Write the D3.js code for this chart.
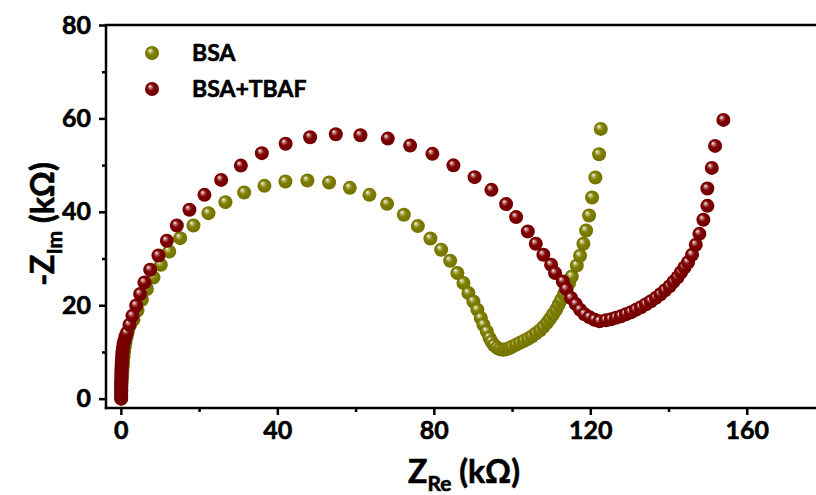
<!DOCTYPE html>
<html lang="en">
<head>
<meta charset="UTF-8">
<title>Nyquist plot BSA</title>
<script src="https://d3js.org/d3.v7.min.js"></script>
<style>
  body { margin: 0; background: #fff; }
  text { font-family: Lato, "Open Sans", sans-serif; font-weight: bold; fill: #000; stroke: #000; stroke-width: 0.6px; }
</style>
</head>
<body>
<script>

// Z_Re / -Z_Im in kOhm
var bsaRe = [0.08, 0.08, 0.08, 0.13, 0.15, 0.2, 0.28, 0.33, 0.41, 0.51, 0.59, 0.72, 0.84, 1.02, 1.23, 1.48, 1.79, 2.3,
    3.22, 4.24, 5.37, 6.65, 8.33, 10.22, 12.35, 15.16, 18.56, 22.39, 26.73, 31.51, 36.70, 42.07, 47.69, 53.24,
    58.53, 63.54, 68.06, 72.33, 75.91, 79.13, 81.87, 84.17, 86.03, 87.57, 88.84, 90.12, 91.14, 92.01, 92.68,
    93.55, 94.21, 94.77, 95.41, 96.18, 96.95, 97.71, 98.48, 99.24, 100.01, 101.03, 102.05, 103.08, 104.10,
    105.12, 106.14, 107.17, 108.06, 108.96, 109.72, 110.49, 111.26, 111.90, 112.54, 113.30, 114.00, 114.58,
    115.27, 116.55, 117.39, 118.24, 118.93, 119.70, 120.46, 121.30, 122.25, 122.68];
var bsaIm = [0, 0.64, 1.28, 1.93, 2.78, 3.64, 4.49, 5.35, 6.2, 7.06, 7.91, 8.98, 10.05, 11.12, 12.19, 13.26, 14.33, 15.6,
    16.90, 18.89, 21.18, 23.47, 25.95, 28.66, 31.51, 34.37, 37.07, 39.72, 42.07, 44.13, 45.56, 46.48, 46.70, 46.27,
    45.13, 43.64, 41.71, 39.36, 36.94, 34.29, 31.87, 29.52, 26.89, 24.75, 22.61, 20.81, 19.04, 17.26, 15.83,
    14.40, 13.05, 12.19, 11.44, 10.91, 10.59, 10.48, 10.59, 10.80, 11.12, 11.55, 11.98, 12.41, 12.83,
    13.37, 14.01, 14.65, 15.40, 16.26, 17.11, 18.07, 19.04, 20.11, 21.18, 22.35, 23.53, 24.75,
    26.16, 28.51, 30.59, 33.16, 36.00, 39.21, 43.06, 47.34, 52.34, 57.75];

var tbafRe = [0.08, 0.08, 0.08, 0.08, 0.08, 0.08, 0.1, 0.1, 0.13, 0.13, 0.15, 0.15, 0.18, 0.2, 0.23, 0.26, 0.31, 0.33,
    0.41, 0.51, 0.69, 0.92, 1.2, 1.53, 2.20, 2.96, 3.91, 4.93, 6.03, 7.49, 9.61, 11.76, 14.31, 17.53, 21.37,
    25.64, 30.67, 36.04, 42.12, 48.38, 54.95, 61.24, 68.24, 73.94, 79.64, 85.01, 90.43, 94.72, 98.48, 101.04,
    104.03, 106.07, 108.01, 109.98, 111.00, 112.97, 113.82, 115.09, 116.29, 117.39, 118.54, 119.82, 121.10,
    122.38, 124.01, 125.29, 126.56, 127.84, 129.12, 130.40, 131.67, 132.95, 134.23, 135.51, 136.79, 137.94,
    139.11, 140.27, 141.29, 142.31, 143.21, 144.10, 145.00, 146.02, 146.97, 147.89, 148.91, 149.93, 149.93,
    151.06, 151.90, 154.02];
var tbafIm = [0, 0.53, 1.07, 1.60, 2.14, 2.67, 3.21, 3.74, 4.28, 4.81, 5.35, 5.88, 6.42, 6.95, 7.49, 8.02, 8.56, 9.20,
    9.95, 10.84, 11.76, 12.47, 13.37, 14.05, 15.83, 17.75, 19.96, 22.40, 24.88, 27.59, 30.65, 33.80, 37.07, 40.43, 43.64,
    46.84, 49.90, 52.56, 54.59, 55.98, 56.62, 56.41, 55.68, 54.18, 52.41, 49.95, 47.42, 44.71, 41.65, 38.87,
    35.79, 33.16, 30.80, 28.66, 26.89, 25.09, 23.47, 21.54, 20.26, 19.04, 18.07, 17.43, 16.90,
    16.58, 16.79, 17.01, 17.33, 17.65, 18.07, 18.50, 19.04, 19.57, 20.21, 20.86, 21.60, 22.35,
    23.21, 24.06, 25.03, 25.99, 27.06, 28.13, 29.20, 30.80, 32.94, 35.29, 38.29, 41.28, 44.98,
    49.41, 54.12, 59.68];

var seriesNames = ["BSA", "BSA+TBAF"];
var seriesColors = ["#808000", "#800000"];
var xTicks = [0, 40, 80, 120, 160];
var xMinor = [20, 60, 100, 140];
var yTicks = [0, 20, 40, 60, 80];
var yMinor = [10, 30, 50, 70];

var width = 816, height = 495;

var svg = d3.select("body").append("svg")
    .attr("width", width)
    .attr("height", height);

var x = d3.scaleLinear().domain([-3.8, 177.7]).range([106, 816]);
var y = d3.scaleLinear().domain([-2, 80]).range([408, 25]);

// sphere-like markers
var defs = svg.append("defs");
seriesColors.forEach(function(c, i) {
    var g = defs.append("radialGradient")
        .attr("id", "ball" + i)
        .attr("cx", "50%").attr("cy", "50%").attr("r", "55%")
        .attr("fx", "34%").attr("fy", "30%");
    g.append("stop").attr("offset", "0%").attr("stop-color", "#ffffff");
    g.append("stop").attr("offset", "18%").attr("stop-color", d3.interpolateRgb("#ffffff", c)(0.5));
    g.append("stop").attr("offset", "45%").attr("stop-color", c);
    g.append("stop").attr("offset", "100%").attr("stop-color", d3.color(c).darker(0.4));
});

// axes
var xAxis = svg.append("g").attr("transform", "translate(0," + 408 + ")");
xAxis.call(d3.axisBottom(x).tickValues(xTicks).tickSize(7).tickPadding(6));
xAxis.append("g").call(d3.axisBottom(x).tickValues(xMinor).tickSize(4).tickFormat(""));

var yAxis = svg.append("g").attr("transform", "translate(" + 106 + ",0)");
yAxis.call(d3.axisLeft(y).tickValues(yTicks).tickSize(7).tickPadding(8));
yAxis.append("g").call(d3.axisLeft(y).tickValues(yMinor).tickSize(4).tickFormat(""));

svg.selectAll(".domain").remove();
svg.selectAll(".tick line").attr("stroke", "#000").attr("stroke-width", 2.5);
svg.selectAll(".tick text").style("font-size", "25px").style("font-family", "Lato, sans-serif")
    .style("font-weight", "bold").attr("fill", "#000");

// frame (bottom, left, top)
svg.append("line").attr("x1", 104.75).attr("x2", width).attr("y1", 408).attr("y2", 408)
    .attr("stroke", "#000").attr("stroke-width", 2.5);
svg.append("line").attr("x1", 106).attr("x2", 106).attr("y1", 25).attr("y2", 409.25)
    .attr("stroke", "#000").attr("stroke-width", 2.5);
svg.append("line").attr("x1", 104.75).attr("x2", width).attr("y1", 25).attr("y2", 25)
    .attr("stroke", "#000").attr("stroke-width", 2.5);

// data points
var series = [
    { re: bsaRe, im: bsaIm },
    { re: tbafRe, im: tbafIm }
];
series.forEach(function(s, i) {
    var pts = s.re.map(function(v, k) { return [v, s.im[k]]; });
    svg.append("g").selectAll("circle")
        .data(pts)
        .enter().append("circle")
        .attr("cx", function(d) { return x(d[0]); })
        .attr("cy", function(d) { return y(d[1]); })
        .attr("r", 7)
        .attr("fill", "url(#ball" + i + ")");
});

// legend
var legend = svg.append("g");
seriesNames.forEach(function(name, i) {
    legend.append("circle")
        .attr("cx", 152).attr("cy", 53 + i * 36)
        .attr("r", 7)
        .attr("fill", "url(#ball" + i + ")");
    legend.append("text")
        .attr("x", 192).attr("y", 53 + i * 36)
        .attr("dy", "0.36em")
        .style("font-size", "23px")
        .text(name);
});

// axis titles
var xt = svg.append("text")
    .attr("x", 464).attr("y", 483)
    .attr("text-anchor", "middle")
    .style("font-size", "32px");
xt.append("tspan").text("Z");
xt.append("tspan").attr("dy", 8).style("font-size", "21px").text("Re");
xt.append("tspan").attr("dy", -8).text(" (k\u03A9)");

var yt = svg.append("text")
    .attr("transform", "translate(54,224) rotate(-90)")
    .attr("text-anchor", "middle")
    .style("font-size", "32px");
yt.append("tspan").text("-Z");
yt.append("tspan").attr("dy", 8).style("font-size", "21px").text("Im");
yt.append("tspan").attr("dy", -8).text(" (k\u03A9)");

</script>
</body>
</html>
